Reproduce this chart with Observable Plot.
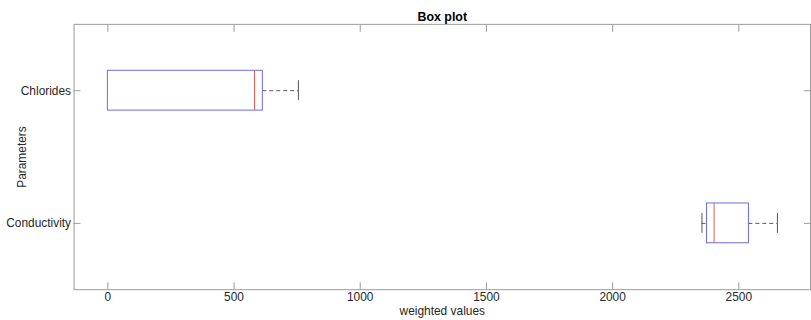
<!DOCTYPE html>
<html>
<head>
<meta charset="utf-8">
<script src="https://cdn.jsdelivr.net/npm/d3@7"></script>
<script src="https://cdn.jsdelivr.net/npm/@observablehq/plot@0.6"></script>
<style>
  html, body { margin: 0; padding: 0; background: #fff; overflow: hidden; }
  svg { display: block; }
</style>
</head>
<body>
<div id="chart"></div>
<script>
const categories = ["Chlorides", "Conductivity"];
const lowerWhisker = [0, 2354];
const q1 = [0, 2374];
const median = [581, 2402];
const q3 = [614, 2540];
const upperWhisker = [755, 2653];
const xTicks = [0, 500, 1000, 1500, 2000, 2500];
const titleText = "Box plot";
const xLabel = "weighted values";
const yLabel = "Parameters";

const n = categories.length;
const rows = categories.map((c, i) => ({
  name: c, pos: n - i,
  lw: lowerWhisker[i], q1: q1[i], med: median[i], q3: q3[i], uw: upperWhisker[i]
}));
const boxHalf = 0.15, capHalf = 0.075;
const posTicks = rows.map(r => r.pos);
const nameAt = new Map(rows.map(r => [r.pos, r.name]));
const lowerRows = rows.filter(r => r.lw < r.q1);
const upperRows = rows.filter(r => r.uw > r.q3);

const axisColor = "#9a9a9a";
const textColor = "#262626";

const chart = Plot.plot({
  width: 816,
  height: 320,
  marginLeft: 74,
  marginRight: 1,
  marginTop: 24,
  marginBottom: 29,
  style: {fontFamily: "'Liberation Sans', Arial, sans-serif", fontSize: "12px", color: textColor, background: "#fff", overflow: "visible"},
  x: {domain: [-134, 2784]},
  y: {domain: [0.5, 2.5]},
  marks: [
    Plot.frame({stroke: axisColor}),
    // x ticks bottom & top (inward)
    Plot.axisX({anchor: "bottom", ticks: xTicks, tickSize: -7, stroke: axisColor, tickFormat: () => "", label: null}),
    Plot.axisX({anchor: "top", ticks: xTicks, tickSize: -7, stroke: axisColor, tickFormat: () => "", label: null}),
    Plot.axisX({anchor: "bottom", ticks: xTicks, tickSize: 0, tickPadding: 3, tickFormat: d => String(d), label: null, fill: textColor}),
    // y ticks left & right (inward)
    Plot.axisY({anchor: "left", ticks: posTicks, tickSize: -7, stroke: axisColor, tickFormat: () => "", label: null}),
    Plot.axisY({anchor: "right", ticks: posTicks, tickSize: -7, stroke: axisColor, tickFormat: () => "", label: null}),
    Plot.axisY({anchor: "left", ticks: posTicks, tickSize: 0, tickPadding: 3, tickFormat: d => nameAt.get(d), label: null, fill: textColor}),
    // whiskers
    Plot.ruleY(lowerRows, {y: "pos", x1: "lw", x2: "q1", stroke: "#555", strokeDasharray: "4,3"}),
    Plot.ruleY(upperRows, {y: "pos", x1: "q3", x2: "uw", stroke: "#555", strokeDasharray: "4,3"}),
    // caps
    Plot.ruleX(lowerRows, {x: "lw", y1: d => d.pos - capHalf, y2: d => d.pos + capHalf, stroke: "#555"}),
    Plot.ruleX(upperRows, {x: "uw", y1: d => d.pos - capHalf, y2: d => d.pos + capHalf, stroke: "#555"}),
    // boxes
    Plot.rect(rows, {x1: "q1", x2: "q3", y1: d => d.pos - boxHalf, y2: d => d.pos + boxHalf, fill: "none", stroke: "#6a6ae8"}),
    // medians
    Plot.ruleX(rows, {x: "med", y1: d => d.pos - boxHalf, y2: d => d.pos + boxHalf, stroke: "#ec5a5a"}),
    // title & labels
    Plot.text([titleText], {frameAnchor: "top", dy: -12, fontWeight: "bold", fontSize: 12.5, fill: "#000"}),
    Plot.text([xLabel], {frameAnchor: "bottom", dy: 22, lineAnchor: "middle", textAnchor: "middle", fill: textColor}),
    Plot.text([yLabel], {frameAnchor: "left", dx: -52, rotate: -90, textAnchor: "middle", lineAnchor: "middle", fill: textColor})
  ]
});
document.getElementById("chart").appendChild(chart);
</script>
</body>
</html>
